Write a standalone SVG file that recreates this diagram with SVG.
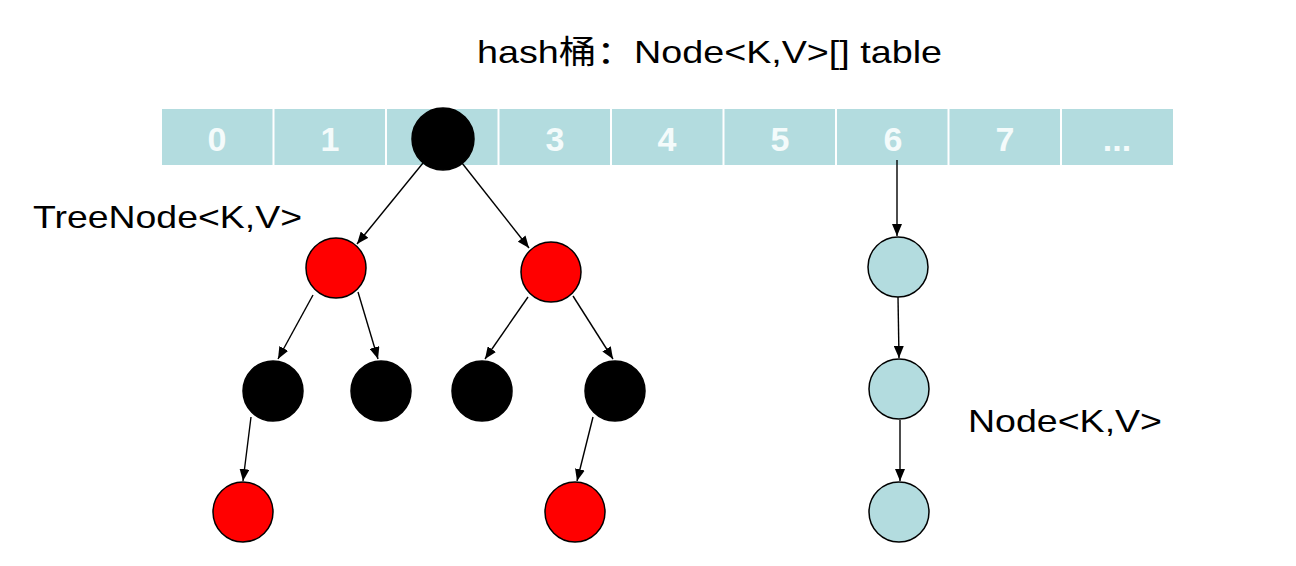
<svg xmlns="http://www.w3.org/2000/svg" width="1296" height="566" viewBox="0 0 1296 566">
<defs>
<marker id="ah" viewBox="0 0 12 10" refX="12" refY="5" markerWidth="12" markerHeight="10" markerUnits="userSpaceOnUse" orient="auto">
<path d="M0,0 L12,5 L0,10 z" fill="#000"/>
</marker>
</defs>
<style>
.cell{fill:#b3dcdf;}
.idx{font-family:"Liberation Sans",Arial,sans-serif;font-size:34px;font-weight:bold;fill:#f4fbfb;text-anchor:middle;}
.lbl{font-family:"Liberation Sans",Arial,"Noto Sans CJK SC",sans-serif;font-size:32px;fill:#000;}
.blk{fill:#000;stroke:#000;stroke-width:1.5;}
.red{fill:#ff0000;stroke:#000;stroke-width:1.5;}
.lst{fill:#b3dcdf;stroke:#000;stroke-width:1.5;}
.edge{stroke:#000;stroke-width:1.4;fill:none;marker-end:url(#ah);}
</style>
<rect width="1296" height="566" fill="#fff"/>
<text class="lbl" x="477" y="63" textLength="465" lengthAdjust="spacingAndGlyphs">hash桶：Node&lt;K,V&gt;[] table</text>
<g id="table">
<rect class="cell" x="162" y="109" width="110.5" height="56"/>
<rect class="cell" x="274.5" y="109" width="110.5" height="56"/>
<rect class="cell" x="387" y="109" width="110.5" height="56"/>
<rect class="cell" x="499.5" y="109" width="110.5" height="56"/>
<rect class="cell" x="612" y="109" width="110.5" height="56"/>
<rect class="cell" x="724.5" y="109" width="110.5" height="56"/>
<rect class="cell" x="837" y="109" width="110.5" height="56"/>
<rect class="cell" x="949.5" y="109" width="110.5" height="56"/>
<rect class="cell" x="1062" y="109" width="111" height="56"/>
<text class="idx" x="217" y="151">0</text>
<text class="idx" x="330" y="151">1</text>
<text class="idx" x="555" y="151">3</text>
<text class="idx" x="667" y="151">4</text>
<text class="idx" x="780" y="151">5</text>
<text class="idx" x="893" y="151">6</text>
<text class="idx" x="1005" y="151">7</text>
<text class="idx" x="1117" y="151">...</text>
</g>
<g id="connectors">
<line class="edge" x1="423" y1="163" x2="357" y2="244"/>
<line class="edge" x1="462" y1="163" x2="529" y2="248"/>
<line class="edge" x1="313" y1="295" x2="278" y2="359"/>
<line class="edge" x1="358" y1="292" x2="378" y2="359"/>
<line class="edge" x1="528" y1="297" x2="485" y2="359"/>
<line class="edge" x1="573" y1="296" x2="613" y2="359"/>
<line class="edge" x1="251" y1="417" x2="243" y2="481"/>
<line class="edge" x1="593" y1="417" x2="577" y2="481"/>
<line class="edge" x1="897" y1="160" x2="897" y2="236"/>
<line class="edge" x1="898" y1="297" x2="899" y2="358"/>
<line class="edge" x1="900" y1="420" x2="900" y2="481"/>
</g>
<g id="root"><circle class="blk" cx="443" cy="139" r="31"/></g>
<g id="t1"><circle class="red" cx="336" cy="268" r="30"/></g>
<g id="t2"><circle class="red" cx="551" cy="272" r="30"/></g>
<g id="t3"><circle class="blk" cx="273" cy="391" r="30"/></g>
<g id="t4"><circle class="blk" cx="381" cy="391" r="30"/></g>
<g id="t5"><circle class="blk" cx="482" cy="391" r="30"/></g>
<g id="t6"><circle class="blk" cx="615" cy="391" r="30"/></g>
<g id="t7"><circle class="red" cx="243" cy="512" r="30"/></g>
<g id="t8"><circle class="red" cx="575" cy="512" r="30"/></g>
<g id="n1"><circle class="lst" cx="898" cy="267" r="30"/></g>
<g id="n2"><circle class="lst" cx="899" cy="389" r="30"/></g>
<g id="n3"><circle class="lst" cx="899" cy="512" r="30"/></g>
<text class="lbl" x="33" y="228" textLength="269" lengthAdjust="spacingAndGlyphs">TreeNode&lt;K,V&gt;</text>
<text class="lbl" x="968" y="432" textLength="194" lengthAdjust="spacingAndGlyphs">Node&lt;K,V&gt;</text>
</svg>
